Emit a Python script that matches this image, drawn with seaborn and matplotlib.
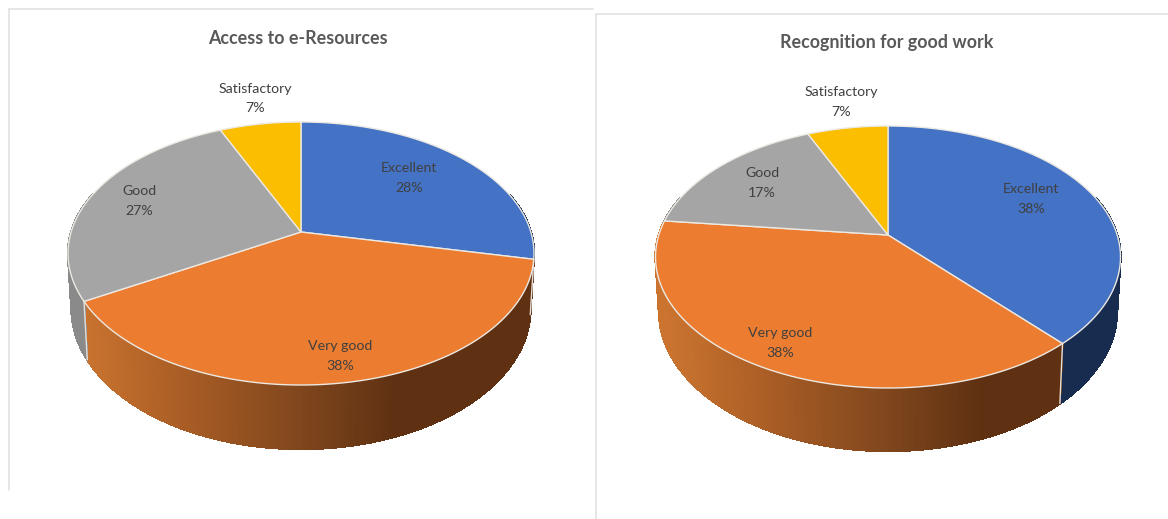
import numpy as np
import matplotlib
matplotlib.use("Agg")
import matplotlib.pyplot as plt
from matplotlib.path import Path
from matplotlib.collections import PolyCollection
from matplotlib.colors import LinearSegmentedColormap, to_rgba
import seaborn as sns

# ---- data ----
categories = ["Excellent", "Very good", "Good", "Satisfactory"]
values_access = [28.3, 38.4, 26.7, 6.6]
values_recognition = [38.4, 38.4, 16.6, 6.6]
titles = ["Access to e-Resources", "Recognition for good work"]

# ---- layout (pixels) ----
W, H = 1168, 519
geom_access = dict(cx=301, top=122, apex=232, bottom=385, half=233, depth=64)
geom_recognition = dict(cx=888, top=126, apex=235, bottom=388, half=232.5, depth=63)
label_xy_access = [(409, 178), (340, 356), (139, 201), (255, 98.5)]
label_xy_recognition = [(1031, 199), (780, 343), (762, 183), (841, 102)]
title_xy = [(298, 38.5), (887, 42.5)]

sns.set_theme(style="white")
plt.rcParams["font.family"] = ["Lato", "DejaVu Sans"]
palette = sns.color_palette(["#4472C4", "#EB7C30", "#A5A5A5", "#FBBE00"])
side_gray = "#8a8a8a"
side_blue = "#182c50"
orange_cmap = LinearSegmentedColormap.from_list(
    "side", ["#cb7430", "#a95d25", "#84491e", "#5f3112", "#5f3112"])

fig = plt.figure(figsize=(W / 100, H / 100), dpi=100, facecolor="white")
ax = fig.add_axes([0, 0, 1, 1])


def make_projection(g):
    b = g["apex"]
    c = (2 * b - g["top"] - g["bottom"]) / (g["top"] - g["bottom"])
    a = g["top"] * (1 + c) - b
    s = g["half"] * np.sqrt(1 - c * c)
    dd = g["depth"] * (1 - abs(c))

    def top_rim(x, v):
        d = 1 + c * v
        return g["cx"] + s * x / d, (a * v + b) / d

    def bottom_rim(x, v):
        d = 1 + c * v
        return g["cx"] + 0.985 * s * x / d, (a * v + b) / d + dd / d

    return top_rim, bottom_rim


def draw_pie(values, g, label_xy):
    top_rim, bottom_rim = make_projection(g)
    fracs = np.asarray(values, dtype=float) / np.sum(values)
    edges = np.concatenate([[0], np.cumsum(fracs)]) * 2 * np.pi  # clockwise from north

    # side wall, strip by strip
    left, right = g["cx"] - g["half"], g["cx"] + g["half"]
    polys, cols = [], []
    seps = []
    for i in range(len(values)):
        t = np.linspace(edges[i], edges[i + 1], max(int(fracs[i] * 700), 3))
        x, v = np.sin(t), np.cos(t)
        tx, ty = top_rim(x, v)
        bx, by = bottom_rim(x, v)
        for j in range(len(t) - 1):
            if v[j] > 0.3 and v[j + 1] > 0.3:
                continue
            polys.append([(tx[j], ty[j]), (tx[j + 1], ty[j + 1]),
                          (bx[j + 1], by[j + 1]), (bx[j], by[j])])
            if i == 1:
                cols.append(orange_cmap((tx[j] - left) / (right - left) * 1.1 - 0.02))
            elif i == 0:
                cols.append(to_rgba(side_blue))
            else:
                cols.append(to_rgba(side_gray))
        if i < len(values) - 1 and v[-1] < 0.1:
            seps.append(([tx[-1], bx[-1]], [ty[-1], by[-1]]))
    ax.add_collection(PolyCollection(polys, facecolors=cols, edgecolors=cols,
                                     linewidths=1.0, antialiaseds=False, zorder=2))
    for sx, sy in seps:
        ax.plot(sx, sy, color="#e6e0da", lw=1.0, zorder=2.5)

    # top face: pie wedges, re-projected
    wedges, _ = ax.pie(values, colors=palette, startangle=90, counterclock=False,
                       wedgeprops=dict(edgecolor="#ece8e2", linewidth=1.0, zorder=3))
    for i, w in enumerate(wedges):
        t = np.linspace(edges[i], edges[i + 1], 160)
        tx, ty = top_rim(np.sin(t), np.cos(t))
        ax_, ay_ = top_rim(np.array([0.0]), np.array([0.0]))
        vx = np.concatenate([ax_, tx, ax_])
        vy = np.concatenate([ay_, ty, ay_])
        w._path = Path(np.column_stack([vx, vy]), closed=True)
        w.set_clip_on(False)

    for name, val, (lx, ly) in zip(categories, values, label_xy):
        ax.text(lx, ly, f"{name}\n{round(val)}%", ha="center", va="center", fontsize=10.2,
                color="#404040", linespacing=1.72, zorder=5)


draw_pie(values_access, geom_access, label_xy_access)
draw_pie(values_recognition, geom_recognition, label_xy_recognition)

for t, (x, y) in zip(titles, title_xy):
    ax.text(x, y, t, ha="center", va="center", fontsize=12.9, fontweight="bold",
            color="#595959", zorder=5)

# panel frames
frame = "#e2e2e2"
ax.plot([8.5, 8.5], [8.5, 490], color=frame, lw=1.2, zorder=1)
ax.plot([8.5, 593], [8.5, 8.5], color=frame, lw=1.2, zorder=1)
ax.plot([595.5, 595.5], [14, H], color=frame, lw=1.2, zorder=1)
ax.plot([595.5, W], [14, 14], color=frame, lw=1.2, zorder=1)

ax.set_aspect("auto")
ax.set(xlim=(0, W), ylim=(H, 0))
ax.axis("off")
fig.savefig("out.png", dpi=100, facecolor="white")
